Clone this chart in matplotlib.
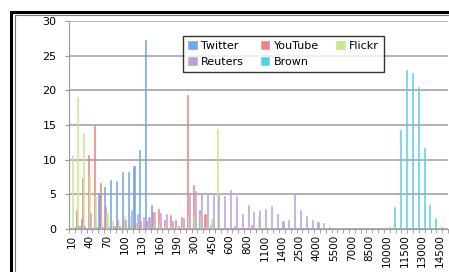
import matplotlib.pyplot as plt
import numpy as np
from matplotlib.patches import Rectangle

# categories (x axis), only every third one gets a label
categories = [10, 20, 30, 40, 50, 60, 70, 80, 90, 100, 110, 120, 130, 140, 150,
              160, 170, 180, 190, 200, 250, 300, 350, 400, 450, 500, 550, 600,
              650, 700, 800, 900, 1000, 1100, 1200, 1300, 1400, 1500, 2000,
              2500, 3000, 3500, 4000, 4500, 5000, 5500, 6000, 6500, 7000, 7500,
              8000, 8500, 9000, 9500, 10000, 10500, 11000, 11500, 12000, 12500,
              13000, 13500, 14000, 14500, 15000]

twitter = [0, 0.3, 1.5, 0, 0.2, 5.2, 6.1, 7.1, 6.9, 8.2, 8.2, 9.1, 11.4, 27.2, 3.5] + [0] * 50
youtube = [0.2, 2.7, 7.4, 10.7, 15.0, 6.7, 3.2, 0.2, 1.3, 1.2, 0.4, 0.9, 1.2, 1.2, 2.5,
           2.9, 1.3, 2.0, 1.3, 1.7, 19.3, 6.4, 2.8, 2.1, 0.6, 0, 0, 0, 0.4, 0,
           0, 0.6] + [0] * 33
flickr = [10.7, 19.0, 13.8, 7.8, 4.8, 1.3, 2.3, 1.1, 0.6, 1.9, 1.9, 0.8, 0.2, 0.3, 0.6,
          0.8, 0.6, 0.5, 0.4, 0.3, 1.9, 1.8, 1.9, 0.8, 1.5, 14.4, 0, 0, 0, 0,
          0, 0, 1.8] + [0] * 32
reuters = [0.1, 0.5, 0.4, 2.3, 0.3, 0.3, 0.3, 0.5, 0.4, 1.3, 2.8, 2.2, 1.8, 1.8, 2.4,
           2.3, 2.1, 1.1, 0.4, 1.6, 5.2, 5.5, 5.2, 4.9, 4.9, 4.9, 4.8, 5.6, 4.8, 2.1,
           3.4, 2.5, 2.7, 2.9, 3.3, 2.2, 1.2, 1.3, 5.2, 2.8, 1.9, 1.3, 1.0, 0.8, 0.3,
           0.15, 0.15] + [0] * 18
brown = [0] * 54 + [0.3, 3.2, 14.3, 22.9, 22.5, 20.5, 11.7, 3.5, 1.6, 0.3, 0]

series = [("Twitter", twitter, "#6fa6ec"),
          ("YouTube", youtube, "#f08282"),
          ("Flickr", flickr, "#c9e88e"),
          ("Reuters", reuters, "#b8a2de"),
          ("Brown", brown, "#56d0ea")]

fig = plt.figure(figsize=(4.49, 2.72), dpi=100)
ax = fig.add_axes([0.154, 0.158, 0.844, 0.765])
ax.set_axisbelow(True)

x = np.arange(len(categories))
w = 0.19
bars = []
for i, (name, vals, col) in enumerate(series):
    b = ax.bar(x + (i - 2) * w, vals, width=w, color=col, label=name,
               edgecolor=col, linewidth=0.4, zorder=3)
    bars.append(b)

ax.set_xlim(-0.5, len(categories) - 0.5)
ax.set_ylim(0, 30)
ax.set_yticks(range(0, 31, 5))
ax.yaxis.grid(True, color="#a6a6a6", linewidth=1.2)
ax.set_xticks(x[::3])
ax.set_xticklabels([str(c) for c in categories[::3]], rotation=90, fontsize=7.5)
ax.set_xticks(np.arange(-0.5, len(categories), 1), minor=True)
ax.tick_params(axis="x", which="major", length=0, pad=4)
ax.tick_params(axis="x", which="minor", length=3, color="#999999")
ax.tick_params(axis="y", length=3, color="#999999", labelsize=8, pad=6)
for s in ["top", "right"]:
    ax.spines[s].set_visible(False)
ax.spines["left"].set_color("#999999")
ax.spines["bottom"].set_color("#999999")

# legend filled row by row: Twitter YouTube Flickr / Reuters Brown
order = [0, 3, 1, 4, 2]
leg = ax.legend([bars[k] for k in order], [series[k][0] for k in order],
                ncol=3, fontsize=8, loc="upper left", bbox_to_anchor=(0.285, 0.955),
                frameon=True, fancybox=False, edgecolor="black",
                handlelength=0.8, handleheight=0.8, columnspacing=1.5,
                handletextpad=0.4, borderpad=0.45, labelspacing=0.5)
leg.get_frame().set_linewidth(1.0)

# the chart frame, cut at the right and bottom of the picture
fig.patches.append(Rectangle((10.5 / 449, -0.2), 1.2, 1.2 - 11.5 / 272,
                             transform=fig.transFigure, fill=False,
                             edgecolor="black", linewidth=2.2))
fig.patches.append(Rectangle((15 / 449, -0.2), 1.2, 1.2 - 15.5 / 272,
                             transform=fig.transFigure, fill=False,
                             edgecolor="#777777", linewidth=0.8))

fig.savefig("out.png", dpi=100)
